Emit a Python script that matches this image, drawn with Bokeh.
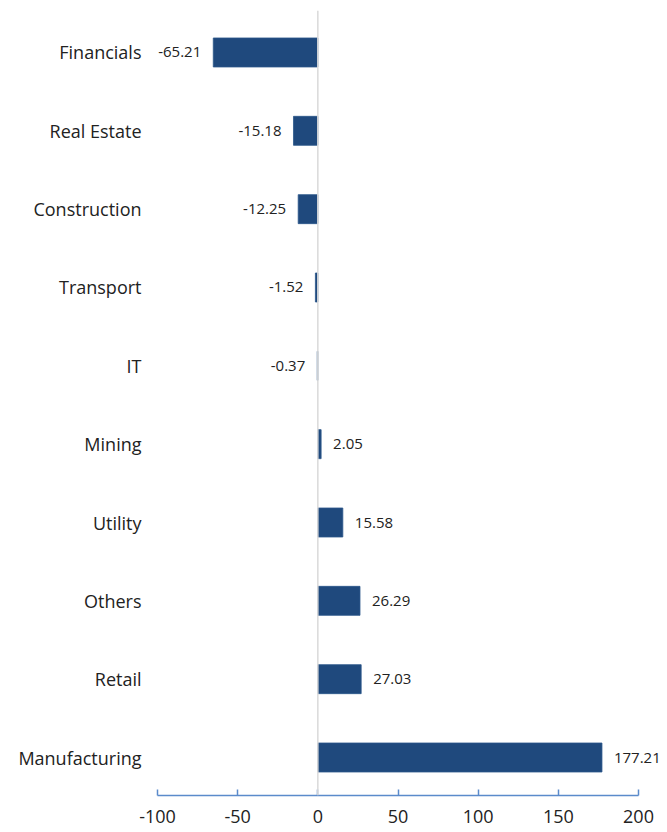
from bokeh.plotting import figure
from bokeh.models import ColumnDataSource, Span, FixedTicker, LabelSet
from bokeh.core.properties import value
from bokeh.embed import file_html
from bokeh.resources import INLINE

categories = ["Financials", "Real Estate", "Construction", "Transport", "IT",
              "Mining", "Utility", "Others", "Retail", "Manufacturing"]
values = [-65.21, -15.18, -12.25, -1.52, -0.37, 2.05, 15.58, 26.29, 27.03, 177.21]
x_ticks = [-100, -50, 0, 50, 100, 150, 200]

n = len(categories)
ypos = [n - 1 - i for i in range(n)]
labels = [f"{v:.2f}" for v in values]
pos_src = ColumnDataSource(dict(
    y=[y for y, v in zip(ypos, values) if v >= 0],
    v=[v for v in values if v >= 0],
    t=[t for t, v in zip(labels, values) if v >= 0]))
neg_src = ColumnDataSource(dict(
    y=[y for y, v in zip(ypos, values) if v < 0],
    v=[v for v in values if v < 0],
    t=[t for t, v in zip(labels, values) if v < 0]))
src = ColumnDataSource(dict(y=ypos, v=values))

FONT = "Open Sans"
px_per_unit = 481 / 300.0
x_end = 200 + (667 - 638) / px_per_unit
p = figure(width=667, height=832, output_backend="svg", toolbar_location=None,
           x_range=(-100, x_end), y_range=(-0.485, n - 1 + 0.536),
           min_border_left=157, min_border_right=0, min_border_top=10, min_border_bottom=37)
p.outline_line_color = None
p.background_fill_color = "white"
p.border_fill_color = "white"
p.grid.visible = False

p.hbar(y="y", left=0, right="v", height=0.37, source=src,
       fill_color="#1F497D", line_color="#2B578A", line_width=0.8)

p.add_layout(Span(location=0, dimension="height", line_color="#D9D9D9", line_width=1.5), "below")

p.add_layout(LabelSet(x="v", y="y", text="t", source=pos_src, x_offset=12,
                      text_align="left", text_baseline="middle",
                      text_font=value(FONT), text_font_size="15px", text_color="#222222"))
p.add_layout(LabelSet(x="v", y="y", text="t", source=neg_src, x_offset=-12,
                      text_align="right", text_baseline="middle",
                      text_font=value(FONT), text_font_size="15px", text_color="#222222"))

xa = p.xaxis[0]
xa.ticker = FixedTicker(ticks=x_ticks)
xa.bounds = (-100, 200)
xa.major_label_overrides = {t: str(t) for t in x_ticks}
xa.axis_line_color = "#5B8BCB"
xa.axis_line_width = 1.5
xa.major_tick_line_color = "#5B8BCB"
xa.major_tick_line_width = 1.5
xa.major_tick_in = 6
xa.major_tick_out = 0
xa.minor_tick_line_color = None
xa.major_label_text_font = FONT
xa.major_label_text_font_size = "18px"
xa.major_label_text_color = "#222222"
xa.major_label_standoff = 14

ya = p.yaxis[0]
ya.ticker = FixedTicker(ticks=ypos)
ya.major_label_overrides = {y: c for y, c in zip(ypos, categories)}
ya.axis_line_color = None
ya.major_tick_line_color = None
ya.minor_tick_line_color = None
ya.major_label_text_font = FONT
ya.major_label_text_font_size = "18px"
ya.major_label_text_color = "#222222"
ya.major_label_standoff = 10

open("out.html", "w").write(file_html(p, INLINE))
